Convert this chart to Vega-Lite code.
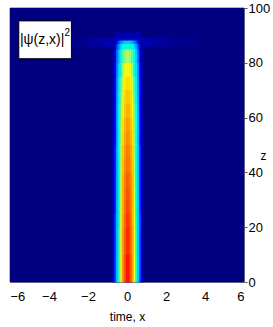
{
"$schema":"https://vega.github.io/schema/vega-lite/v6.json",
"autosize":{"type":"none"},
"padding":{"left":10,"top":8,"right":29,"bottom":45},
"width":234,"height":274,
"background":"white",
"config":{"view":{"stroke":null},"axis":{"labelOverlap":false,"labelBound":false}},
"encoding":{
"x":{"field":"x","type":"quantitative","scale":{"domain":[-6,6],"nice":false,"zero":false},
"axis":{"orient":"bottom","values":[-6,-4,-2,0,2,4,6],"labelOverlap":false,"labelBound":false,"tickSize":-4,"tickColor":"#888888","domainColor":"#888888","labelPadding":12,"labelFont":"Liberation Sans","labelFontSize":13,"labelColor":"black","title":"time, x","titleFont":"Liberation Sans","titleFontSize":12,"titleFontWeight":"normal","titleColor":"black","titleY":34,"titleBaseline":"middle","grid":false}},
"y":{"field":"z","type":"quantitative","scale":{"domain":[0,100],"nice":false,"zero":false},
"axis":{"orient":"right","values":[0,20,40,60,80,100],"labelOverlap":false,"tickSize":3,"tickColor":"#555555","domainColor":"#888888","labelPadding":1,"labelFont":"Liberation Sans","labelFontSize":13,"labelColor":"black","title":"z","titleFont":"Liberation Sans","titleFontSize":12,"titleFontWeight":"normal","titleColor":"black","titleAngle":0,"titleX":19,"titleY":147,"titleAlign":"center","titleBaseline":"middle","grid":false}}
},
"layer":[
{"data":{"values":[
{"x":-6,"x2":6,"z":0,"z2":100,"v":0},
{"x":-3,"x2":-2,"z":86,"z2":89,"v":0.015},
{"x":-2,"x2":-1.3,"z":86,"z2":89,"v":0.03},
{"x":-1.3,"x2":-0.8,"z":86,"z2":89,"v":0.05},
{"x":-0.8,"x2":0.9,"z":86,"z2":89,"v":0.08},
{"x":0.9,"x2":1.4,"z":86,"z2":89,"v":0.05},
{"x":1.4,"x2":2.2,"z":86,"z2":89,"v":0.03},
{"x":2.2,"x2":3.5,"z":86,"z2":89,"v":0.015},
{"x":-0.6,"x2":0.7,"z":89,"z2":91,"v":0.05},

{"x":-0.75,"x2":-0.65,"z":0,"z2":10,"v":0.05},{"x":-0.65,"x2":-0.55,"z":0,"z2":10,"v":0.14},{"x":-0.55,"x2":-0.45,"z":0,"z2":10,"v":0.30},{"x":-0.45,"x2":-0.35,"z":0,"z2":10,"v":0.45},{"x":-0.35,"x2":-0.25,"z":0,"z2":10,"v":0.61},{"x":-0.25,"x2":-0.15,"z":0,"z2":10,"v":0.75},{"x":-0.15,"x2":-0.05,"z":0,"z2":10,"v":0.83},{"x":-0.05,"x2":0.05,"z":0,"z2":10,"v":0.87},
{"x":0.05,"x2":0.15,"z":0,"z2":10,"v":0.87},{"x":0.15,"x2":0.25,"z":0,"z2":10,"v":0.83},{"x":0.25,"x2":0.35,"z":0,"z2":10,"v":0.75},{"x":0.35,"x2":0.45,"z":0,"z2":10,"v":0.61},{"x":0.45,"x2":0.55,"z":0,"z2":10,"v":0.45},{"x":0.55,"x2":0.65,"z":0,"z2":10,"v":0.30},{"x":0.65,"x2":0.75,"z":0,"z2":10,"v":0.14},{"x":0.75,"x2":0.85,"z":0,"z2":10,"v":0.05},

{"x":-0.75,"x2":-0.65,"z":10,"z2":20,"v":0.05},{"x":-0.65,"x2":-0.55,"z":10,"z2":20,"v":0.14},{"x":-0.55,"x2":-0.45,"z":10,"z2":20,"v":0.29},{"x":-0.45,"x2":-0.35,"z":10,"z2":20,"v":0.45},{"x":-0.35,"x2":-0.25,"z":10,"z2":20,"v":0.60},{"x":-0.25,"x2":-0.15,"z":10,"z2":20,"v":0.74},{"x":-0.15,"x2":-0.05,"z":10,"z2":20,"v":0.82},{"x":-0.05,"x2":0.05,"z":10,"z2":20,"v":0.86},
{"x":0.05,"x2":0.15,"z":10,"z2":20,"v":0.86},{"x":0.15,"x2":0.25,"z":10,"z2":20,"v":0.82},{"x":0.25,"x2":0.35,"z":10,"z2":20,"v":0.74},{"x":0.35,"x2":0.45,"z":10,"z2":20,"v":0.60},{"x":0.45,"x2":0.55,"z":10,"z2":20,"v":0.45},{"x":0.55,"x2":0.65,"z":10,"z2":20,"v":0.29},{"x":0.65,"x2":0.75,"z":10,"z2":20,"v":0.14},{"x":0.75,"x2":0.85,"z":10,"z2":20,"v":0.05},

{"x":-0.75,"x2":-0.65,"z":20,"z2":25,"v":0.05},{"x":-0.65,"x2":-0.55,"z":20,"z2":25,"v":0.14},{"x":-0.55,"x2":-0.45,"z":20,"z2":25,"v":0.29},{"x":-0.45,"x2":-0.35,"z":20,"z2":25,"v":0.44},{"x":-0.35,"x2":-0.25,"z":20,"z2":25,"v":0.60},{"x":-0.25,"x2":-0.15,"z":20,"z2":25,"v":0.73},{"x":-0.15,"x2":-0.05,"z":20,"z2":25,"v":0.81},{"x":-0.05,"x2":0.05,"z":20,"z2":25,"v":0.85},
{"x":0.05,"x2":0.15,"z":20,"z2":25,"v":0.85},{"x":0.15,"x2":0.25,"z":20,"z2":25,"v":0.81},{"x":0.25,"x2":0.35,"z":20,"z2":25,"v":0.73},{"x":0.35,"x2":0.45,"z":20,"z2":25,"v":0.60},{"x":0.45,"x2":0.55,"z":20,"z2":25,"v":0.44},{"x":0.55,"x2":0.65,"z":20,"z2":25,"v":0.29},{"x":0.65,"x2":0.75,"z":20,"z2":25,"v":0.14},{"x":0.75,"x2":0.85,"z":20,"z2":25,"v":0.05},

{"x":-0.75,"x2":-0.65,"z":25,"z2":30,"v":0.05},{"x":-0.65,"x2":-0.55,"z":25,"z2":30,"v":0.13},{"x":-0.55,"x2":-0.45,"z":25,"z2":30,"v":0.29},{"x":-0.45,"x2":-0.35,"z":25,"z2":30,"v":0.44},{"x":-0.35,"x2":-0.25,"z":25,"z2":30,"v":0.59},{"x":-0.25,"x2":-0.15,"z":25,"z2":30,"v":0.72},{"x":-0.15,"x2":-0.05,"z":25,"z2":30,"v":0.80},{"x":-0.05,"x2":0.05,"z":25,"z2":30,"v":0.84},
{"x":0.05,"x2":0.15,"z":25,"z2":30,"v":0.84},{"x":0.15,"x2":0.25,"z":25,"z2":30,"v":0.80},{"x":0.25,"x2":0.35,"z":25,"z2":30,"v":0.72},{"x":0.35,"x2":0.45,"z":25,"z2":30,"v":0.59},{"x":0.45,"x2":0.55,"z":25,"z2":30,"v":0.44},{"x":0.55,"x2":0.65,"z":25,"z2":30,"v":0.29},{"x":0.65,"x2":0.75,"z":25,"z2":30,"v":0.13},{"x":0.75,"x2":0.85,"z":25,"z2":30,"v":0.05},

{"x":-0.75,"x2":-0.65,"z":30,"z2":35,"v":0.05},{"x":-0.65,"x2":-0.55,"z":30,"z2":35,"v":0.13},{"x":-0.55,"x2":-0.45,"z":30,"z2":35,"v":0.28},{"x":-0.45,"x2":-0.35,"z":30,"z2":35,"v":0.43},{"x":-0.35,"x2":-0.25,"z":30,"z2":35,"v":0.58},{"x":-0.25,"x2":-0.15,"z":30,"z2":35,"v":0.71},{"x":-0.15,"x2":-0.05,"z":30,"z2":35,"v":0.79},{"x":-0.05,"x2":0.05,"z":30,"z2":35,"v":0.83},
{"x":0.05,"x2":0.15,"z":30,"z2":35,"v":0.83},{"x":0.15,"x2":0.25,"z":30,"z2":35,"v":0.79},{"x":0.25,"x2":0.35,"z":30,"z2":35,"v":0.71},{"x":0.35,"x2":0.45,"z":30,"z2":35,"v":0.58},{"x":0.45,"x2":0.55,"z":30,"z2":35,"v":0.43},{"x":0.55,"x2":0.65,"z":30,"z2":35,"v":0.28},{"x":0.65,"x2":0.75,"z":30,"z2":35,"v":0.13},{"x":0.75,"x2":0.85,"z":30,"z2":35,"v":0.05},

{"x":-0.75,"x2":-0.65,"z":35,"z2":40,"v":0.05},{"x":-0.65,"x2":-0.55,"z":35,"z2":40,"v":0.13},{"x":-0.55,"x2":-0.45,"z":35,"z2":40,"v":0.28},{"x":-0.45,"x2":-0.35,"z":35,"z2":40,"v":0.43},{"x":-0.35,"x2":-0.25,"z":35,"z2":40,"v":0.57},{"x":-0.25,"x2":-0.15,"z":35,"z2":40,"v":0.71},{"x":-0.15,"x2":-0.05,"z":35,"z2":40,"v":0.78},{"x":-0.05,"x2":0.05,"z":35,"z2":40,"v":0.82},
{"x":0.05,"x2":0.15,"z":35,"z2":40,"v":0.82},{"x":0.15,"x2":0.25,"z":35,"z2":40,"v":0.78},{"x":0.25,"x2":0.35,"z":35,"z2":40,"v":0.71},{"x":0.35,"x2":0.45,"z":35,"z2":40,"v":0.57},{"x":0.45,"x2":0.55,"z":35,"z2":40,"v":0.43},{"x":0.55,"x2":0.65,"z":35,"z2":40,"v":0.28},{"x":0.65,"x2":0.75,"z":35,"z2":40,"v":0.13},{"x":0.75,"x2":0.85,"z":35,"z2":40,"v":0.05},

{"x":-0.75,"x2":-0.65,"z":40,"z2":45,"v":0.05},{"x":-0.65,"x2":-0.55,"z":40,"z2":45,"v":0.13},{"x":-0.55,"x2":-0.45,"z":40,"z2":45,"v":0.27},{"x":-0.45,"x2":-0.35,"z":40,"z2":45,"v":0.42},{"x":-0.35,"x2":-0.25,"z":40,"z2":45,"v":0.56},{"x":-0.25,"x2":-0.15,"z":40,"z2":45,"v":0.69},{"x":-0.15,"x2":-0.05,"z":40,"z2":45,"v":0.76},{"x":-0.05,"x2":0.05,"z":40,"z2":45,"v":0.80},
{"x":0.05,"x2":0.15,"z":40,"z2":45,"v":0.80},{"x":0.15,"x2":0.25,"z":40,"z2":45,"v":0.76},{"x":0.25,"x2":0.35,"z":40,"z2":45,"v":0.69},{"x":0.35,"x2":0.45,"z":40,"z2":45,"v":0.56},{"x":0.45,"x2":0.55,"z":40,"z2":45,"v":0.42},{"x":0.55,"x2":0.65,"z":40,"z2":45,"v":0.27},{"x":0.65,"x2":0.75,"z":40,"z2":45,"v":0.13},{"x":0.75,"x2":0.85,"z":40,"z2":45,"v":0.05},

{"x":-0.75,"x2":-0.65,"z":45,"z2":50,"v":0.05},{"x":-0.65,"x2":-0.55,"z":45,"z2":50,"v":0.13},{"x":-0.55,"x2":-0.45,"z":45,"z2":50,"v":0.27},{"x":-0.45,"x2":-0.35,"z":45,"z2":50,"v":0.41},{"x":-0.35,"x2":-0.25,"z":45,"z2":50,"v":0.55},{"x":-0.25,"x2":-0.15,"z":45,"z2":50,"v":0.68},{"x":-0.15,"x2":-0.05,"z":45,"z2":50,"v":0.75},{"x":-0.05,"x2":0.05,"z":45,"z2":50,"v":0.79},
{"x":0.05,"x2":0.15,"z":45,"z2":50,"v":0.79},{"x":0.15,"x2":0.25,"z":45,"z2":50,"v":0.75},{"x":0.25,"x2":0.35,"z":45,"z2":50,"v":0.68},{"x":0.35,"x2":0.45,"z":45,"z2":50,"v":0.55},{"x":0.45,"x2":0.55,"z":45,"z2":50,"v":0.41},{"x":0.55,"x2":0.65,"z":45,"z2":50,"v":0.27},{"x":0.65,"x2":0.75,"z":45,"z2":50,"v":0.13},{"x":0.75,"x2":0.85,"z":45,"z2":50,"v":0.05},

{"x":-0.75,"x2":-0.65,"z":50,"z2":55,"v":0.05},{"x":-0.65,"x2":-0.55,"z":50,"z2":55,"v":0.12},{"x":-0.55,"x2":-0.45,"z":50,"z2":55,"v":0.26},{"x":-0.45,"x2":-0.35,"z":50,"z2":55,"v":0.40},{"x":-0.35,"x2":-0.25,"z":50,"z2":55,"v":0.54},{"x":-0.25,"x2":-0.15,"z":50,"z2":55,"v":0.66},{"x":-0.15,"x2":-0.05,"z":50,"z2":55,"v":0.73},{"x":-0.05,"x2":0.05,"z":50,"z2":55,"v":0.77},
{"x":0.05,"x2":0.15,"z":50,"z2":55,"v":0.77},{"x":0.15,"x2":0.25,"z":50,"z2":55,"v":0.73},{"x":0.25,"x2":0.35,"z":50,"z2":55,"v":0.66},{"x":0.35,"x2":0.45,"z":50,"z2":55,"v":0.54},{"x":0.45,"x2":0.55,"z":50,"z2":55,"v":0.40},{"x":0.55,"x2":0.65,"z":50,"z2":55,"v":0.26},{"x":0.65,"x2":0.75,"z":50,"z2":55,"v":0.12},{"x":0.75,"x2":0.85,"z":50,"z2":55,"v":0.05},

{"x":-0.75,"x2":-0.65,"z":55,"z2":60,"v":0.05},{"x":-0.65,"x2":-0.55,"z":55,"z2":60,"v":0.12},{"x":-0.55,"x2":-0.45,"z":55,"z2":60,"v":0.26},{"x":-0.45,"x2":-0.35,"z":55,"z2":60,"v":0.39},{"x":-0.35,"x2":-0.25,"z":55,"z2":60,"v":0.53},{"x":-0.25,"x2":-0.15,"z":55,"z2":60,"v":0.65},{"x":-0.15,"x2":-0.05,"z":55,"z2":60,"v":0.71},{"x":-0.05,"x2":0.05,"z":55,"z2":60,"v":0.75},
{"x":0.05,"x2":0.15,"z":55,"z2":60,"v":0.75},{"x":0.15,"x2":0.25,"z":55,"z2":60,"v":0.71},{"x":0.25,"x2":0.35,"z":55,"z2":60,"v":0.65},{"x":0.35,"x2":0.45,"z":55,"z2":60,"v":0.53},{"x":0.45,"x2":0.55,"z":55,"z2":60,"v":0.39},{"x":0.55,"x2":0.65,"z":55,"z2":60,"v":0.26},{"x":0.65,"x2":0.75,"z":55,"z2":60,"v":0.12},{"x":0.75,"x2":0.85,"z":55,"z2":60,"v":0.05},

{"x":-0.75,"x2":-0.65,"z":60,"z2":65,"v":0.04},{"x":-0.65,"x2":-0.55,"z":60,"z2":65,"v":0.12},{"x":-0.55,"x2":-0.45,"z":60,"z2":65,"v":0.25},{"x":-0.45,"x2":-0.35,"z":60,"z2":65,"v":0.38},{"x":-0.35,"x2":-0.25,"z":60,"z2":65,"v":0.51},{"x":-0.25,"x2":-0.15,"z":60,"z2":65,"v":0.63},{"x":-0.15,"x2":-0.05,"z":60,"z2":65,"v":0.69},{"x":-0.05,"x2":0.05,"z":60,"z2":65,"v":0.73},
{"x":0.05,"x2":0.15,"z":60,"z2":65,"v":0.73},{"x":0.15,"x2":0.25,"z":60,"z2":65,"v":0.69},{"x":0.25,"x2":0.35,"z":60,"z2":65,"v":0.63},{"x":0.35,"x2":0.45,"z":60,"z2":65,"v":0.51},{"x":0.45,"x2":0.55,"z":60,"z2":65,"v":0.38},{"x":0.55,"x2":0.65,"z":60,"z2":65,"v":0.25},{"x":0.65,"x2":0.75,"z":60,"z2":65,"v":0.12},{"x":0.75,"x2":0.85,"z":60,"z2":65,"v":0.04},

{"x":-0.75,"x2":-0.65,"z":65,"z2":70,"v":0.04},{"x":-0.65,"x2":-0.55,"z":65,"z2":70,"v":0.11},{"x":-0.55,"x2":-0.45,"z":65,"z2":70,"v":0.24},{"x":-0.45,"x2":-0.35,"z":65,"z2":70,"v":0.36},{"x":-0.35,"x2":-0.25,"z":65,"z2":70,"v":0.49},{"x":-0.25,"x2":-0.15,"z":65,"z2":70,"v":0.60},{"x":-0.15,"x2":-0.05,"z":65,"z2":70,"v":0.67},{"x":-0.05,"x2":0.05,"z":65,"z2":70,"v":0.70},
{"x":0.05,"x2":0.15,"z":65,"z2":70,"v":0.70},{"x":0.15,"x2":0.25,"z":65,"z2":70,"v":0.67},{"x":0.25,"x2":0.35,"z":65,"z2":70,"v":0.60},{"x":0.35,"x2":0.45,"z":65,"z2":70,"v":0.49},{"x":0.45,"x2":0.55,"z":65,"z2":70,"v":0.36},{"x":0.55,"x2":0.65,"z":65,"z2":70,"v":0.24},{"x":0.65,"x2":0.75,"z":65,"z2":70,"v":0.11},{"x":0.75,"x2":0.85,"z":65,"z2":70,"v":0.04},

{"x":-0.75,"x2":-0.65,"z":70,"z2":75,"v":0.04},{"x":-0.65,"x2":-0.55,"z":70,"z2":75,"v":0.11},{"x":-0.55,"x2":-0.45,"z":70,"z2":75,"v":0.23},{"x":-0.45,"x2":-0.35,"z":70,"z2":75,"v":0.35},{"x":-0.35,"x2":-0.25,"z":70,"z2":75,"v":0.47},{"x":-0.25,"x2":-0.15,"z":70,"z2":75,"v":0.58},{"x":-0.15,"x2":-0.05,"z":70,"z2":75,"v":0.64},{"x":-0.05,"x2":0.05,"z":70,"z2":75,"v":0.67},
{"x":0.05,"x2":0.15,"z":70,"z2":75,"v":0.67},{"x":0.15,"x2":0.25,"z":70,"z2":75,"v":0.64},{"x":0.25,"x2":0.35,"z":70,"z2":75,"v":0.58},{"x":0.35,"x2":0.45,"z":70,"z2":75,"v":0.47},{"x":0.45,"x2":0.55,"z":70,"z2":75,"v":0.35},{"x":0.55,"x2":0.65,"z":70,"z2":75,"v":0.23},{"x":0.65,"x2":0.75,"z":70,"z2":75,"v":0.11},{"x":0.75,"x2":0.85,"z":70,"z2":75,"v":0.04},

{"x":-0.75,"x2":-0.65,"z":75,"z2":80,"v":0.04},{"x":-0.65,"x2":-0.55,"z":75,"z2":80,"v":0.10},{"x":-0.55,"x2":-0.45,"z":75,"z2":80,"v":0.21},{"x":-0.45,"x2":-0.35,"z":75,"z2":80,"v":0.33},{"x":-0.35,"x2":-0.25,"z":75,"z2":80,"v":0.44},{"x":-0.25,"x2":-0.15,"z":75,"z2":80,"v":0.54},{"x":-0.15,"x2":-0.05,"z":75,"z2":80,"v":0.60},{"x":-0.05,"x2":0.05,"z":75,"z2":80,"v":0.63},
{"x":0.05,"x2":0.15,"z":75,"z2":80,"v":0.63},{"x":0.15,"x2":0.25,"z":75,"z2":80,"v":0.60},{"x":0.25,"x2":0.35,"z":75,"z2":80,"v":0.54},{"x":0.35,"x2":0.45,"z":75,"z2":80,"v":0.44},{"x":0.45,"x2":0.55,"z":75,"z2":80,"v":0.33},{"x":0.55,"x2":0.65,"z":75,"z2":80,"v":0.21},{"x":0.65,"x2":0.75,"z":75,"z2":80,"v":0.10},{"x":0.75,"x2":0.85,"z":75,"z2":80,"v":0.04},

{"x":-0.75,"x2":-0.65,"z":80,"z2":85,"v":0.03},{"x":-0.65,"x2":-0.55,"z":80,"z2":85,"v":0.09},{"x":-0.55,"x2":-0.45,"z":80,"z2":85,"v":0.19},{"x":-0.45,"x2":-0.35,"z":80,"z2":85,"v":0.29},{"x":-0.35,"x2":-0.25,"z":80,"z2":85,"v":0.39},{"x":-0.25,"x2":-0.15,"z":80,"z2":85,"v":0.48},{"x":-0.15,"x2":-0.05,"z":80,"z2":85,"v":0.53},{"x":-0.05,"x2":0.05,"z":80,"z2":85,"v":0.56},
{"x":0.05,"x2":0.15,"z":80,"z2":85,"v":0.56},{"x":0.15,"x2":0.25,"z":80,"z2":85,"v":0.53},{"x":0.25,"x2":0.35,"z":80,"z2":85,"v":0.48},{"x":0.35,"x2":0.45,"z":80,"z2":85,"v":0.39},{"x":0.45,"x2":0.55,"z":80,"z2":85,"v":0.29},{"x":0.55,"x2":0.65,"z":80,"z2":85,"v":0.19},{"x":0.65,"x2":0.75,"z":80,"z2":85,"v":0.09},{"x":0.75,"x2":0.85,"z":80,"z2":85,"v":0.03},

{"x":-0.75,"x2":-0.65,"z":85,"z2":87,"v":0.03},{"x":-0.65,"x2":-0.55,"z":85,"z2":87,"v":0.07},{"x":-0.55,"x2":-0.45,"z":85,"z2":87,"v":0.15},{"x":-0.45,"x2":-0.35,"z":85,"z2":87,"v":0.23},{"x":-0.35,"x2":-0.25,"z":85,"z2":87,"v":0.32},{"x":-0.25,"x2":-0.15,"z":85,"z2":87,"v":0.39},{"x":-0.15,"x2":-0.05,"z":85,"z2":87,"v":0.43},{"x":-0.05,"x2":0.05,"z":85,"z2":87,"v":0.45},
{"x":0.05,"x2":0.15,"z":85,"z2":87,"v":0.45},{"x":0.15,"x2":0.25,"z":85,"z2":87,"v":0.43},{"x":0.25,"x2":0.35,"z":85,"z2":87,"v":0.39},{"x":0.35,"x2":0.45,"z":85,"z2":87,"v":0.32},{"x":0.45,"x2":0.55,"z":85,"z2":87,"v":0.23},{"x":0.55,"x2":0.65,"z":85,"z2":87,"v":0.15},{"x":0.65,"x2":0.75,"z":85,"z2":87,"v":0.07},{"x":0.75,"x2":0.85,"z":85,"z2":87,"v":0.03},

{"x":-0.75,"x2":-0.65,"z":87,"z2":88,"v":0.02},{"x":-0.65,"x2":-0.55,"z":87,"z2":88,"v":0.05},{"x":-0.55,"x2":-0.45,"z":87,"z2":88,"v":0.10},{"x":-0.45,"x2":-0.35,"z":87,"z2":88,"v":0.16},{"x":-0.35,"x2":-0.25,"z":87,"z2":88,"v":0.21},{"x":-0.25,"x2":-0.15,"z":87,"z2":88,"v":0.26},{"x":-0.15,"x2":-0.05,"z":87,"z2":88,"v":0.29},{"x":-0.05,"x2":0.05,"z":87,"z2":88,"v":0.30},
{"x":0.05,"x2":0.15,"z":87,"z2":88,"v":0.30},{"x":0.15,"x2":0.25,"z":87,"z2":88,"v":0.29},{"x":0.25,"x2":0.35,"z":87,"z2":88,"v":0.26},{"x":0.35,"x2":0.45,"z":87,"z2":88,"v":0.21},{"x":0.45,"x2":0.55,"z":87,"z2":88,"v":0.16},{"x":0.55,"x2":0.65,"z":87,"z2":88,"v":0.10},{"x":0.65,"x2":0.75,"z":87,"z2":88,"v":0.05},{"x":0.75,"x2":0.85,"z":87,"z2":88,"v":0.02}
]},
"mark":{"type":"rect","strokeWidth":0.6},
"encoding":{
"x2":{"field":"x2"},
"y2":{"field":"z2"},
"color":{"field":"v","type":"quantitative","legend":null,
"scale":{"type":"linear","domain":[0,0.125,0.375,0.625,0.875,1],"range":["#000080","#0000ff","#00ffff","#ffff00","#ff0000","#800000"]}},
"stroke":{"field":"v","type":"quantitative","legend":null,
"scale":{"type":"linear","domain":[0,0.125,0.375,0.625,0.875,1],"range":["#000080","#0000ff","#00ffff","#ffff00","#ff0000","#800000"]}}
}},
{"data":{"values":[{"x":-5.55,"x2":-2.85,"z":81.5,"z2":95.3}]},
"mark":{"type":"rect","fill":"white","stroke":"black","strokeWidth":1},
"encoding":{"x2":{"field":"x2"},"y2":{"field":"z2"}}},
{"data":{"values":[{"x":-5.49,"z":88.3,"t":"|ψ(z,x)|","s":14},{"x":-3.2,"z":90.8,"t":"2","s":10}]},
"mark":{"type":"text","align":"left","baseline":"middle","font":"Liberation Sans","color":"black"},
"encoding":{"text":{"field":"t"},"size":{"field":"s","type":"quantitative","scale":null,"legend":null}}}
]
}
